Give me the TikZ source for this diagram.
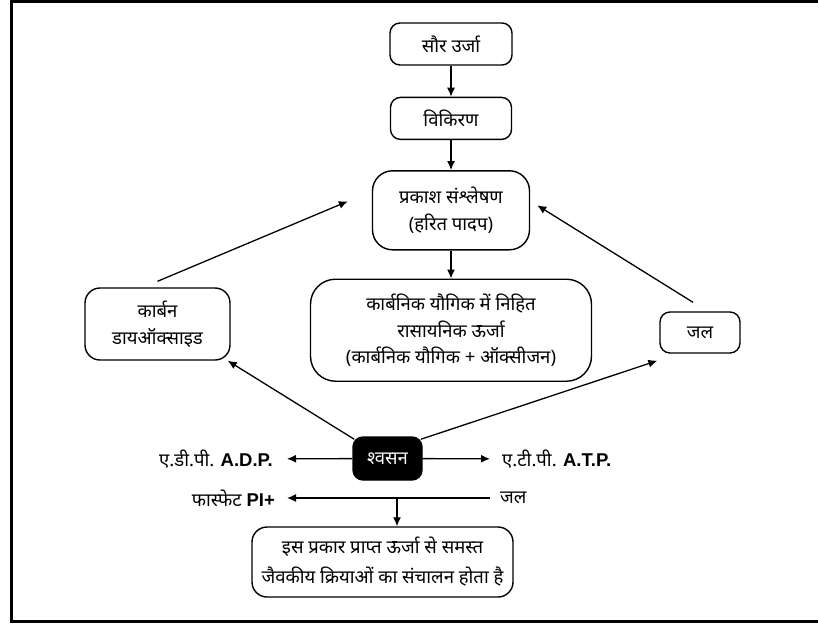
\documentclass[tikz,border=0pt]{standalone}
\usepackage{fontspec}
\newfontfamily\hindi[Script=Devanagari]{Noto Sans}
\newfontfamily\latin{Liberation Sans}
\usetikzlibrary{positioning,arrows.meta,calc}

\begin{document}
\begin{tikzpicture}[
    x=1pt, y=-1pt,
    font=\hindi\fontsize{18.5}{26.5}\selectfont,
    bx/.style={rectangle, draw, line width=1.4pt, rounded corners=10pt,
               align=center, inner sep=0pt},
    arr/.style={-{Latex[length=9pt,width=8pt]}, line width=1.3pt},
    lbl/.style={inner sep=3pt},
  ]
  \useasboundingbox (0,0) rectangle (818,624);
  \draw[line width=3pt] (11.5,1) rectangle (830,621.5);

  % upper chain
  \node[bx, minimum width=122pt, minimum height=42pt] (saur) at (451,44) {सौर उर्जा};
  \node[bx, minimum width=121pt, minimum height=42pt, below=31pt of saur] (vikiran) {विकिरण};
  \node[bx, rounded corners=20pt, minimum width=157pt, minimum height=79pt, below=30pt of vikiran] (prakash)
    {प्रकाश संश्लेषण\\(हरित पादप)};
  \node[bx, rounded corners=25pt, minimum width=281pt, minimum height=102pt, below=28pt of prakash] (karbanik)
    {कार्बनिक यौगिक में निहित\\रासायनिक ऊर्जा\\(कार्बनिक यौगिक + ऑक्सीजन)};

  % sides
  \node[bx, rounded corners=15pt, minimum width=145pt, minimum height=72pt] (co2) at (157.5,324)
    {कार्बन\\डायऑक्साइड};
  \node[bx, minimum width=80pt, minimum height=41pt] (jal) at (700,332.5) {जल};

  % respiration
  \node[bx, fill=black, text=white, font=\hindi\bfseries\fontsize{18.5}{26.5}\selectfont,
        minimum width=69pt, minimum height=43pt] (shvasan) at (387.5,458.5) {श्वसन};
  \node[lbl, anchor=east] (adp) at (276,459) {ए.डी.पी. {\latin\bfseries A.D.P.}};
  \node[lbl, anchor=west] (atp) at (499,459) {ए.टी.पी. {\latin\bfseries A.T.P.}};
  \node[lbl, anchor=east] (phos) at (278,498) {फास्फेट {\latin\bfseries PI+}};
  \node[lbl, anchor=west] (jal2) at (497,498) {जल};
  \coordinate (split) at (397,498);
  \node[bx, rounded corners=15pt, minimum width=261pt, minimum height=70pt,
        font=\hindi\fontsize{18.5}{30}\selectfont] (sanchalan) at (382.5,562)
    {इस प्रकार प्राप्त ऊर्जा से समस्त\\जैवकीय क्रियाओं का संचालन होता है};

  \draw[arr] (saur) -- (vikiran);
  \draw[arr] (vikiran) -- (prakash);
  \draw[arr] (prakash) -- (karbanik);
  \draw[arr] ([yshift=6pt]co2.north) -- ([xshift=-24pt,yshift=9pt]prakash.west);
  \draw[arr] ([xshift=-7pt,yshift=9pt]jal.north) -- ([xshift=7pt,yshift=5pt]prakash.east);
  \draw[arr] ([xshift=2pt,yshift=-3pt]shvasan.north west) -- ([xshift=-3pt]co2.south east);
  \draw[arr] ([xshift=-2pt,yshift=-3pt]shvasan.north east) -- ([xshift=-2pt,yshift=-7pt]jal.south west);
  \draw[arr, shorten >=11pt] (shvasan) -- (adp);
  \draw[arr, shorten >=9pt] (shvasan) -- (atp);
  \draw[arr, shorten <=7pt, shorten >=9pt] (jal2) -- (phos);
  \draw[arr] (split) -- (split |- sanchalan.north);
\end{tikzpicture}
\end{document}
